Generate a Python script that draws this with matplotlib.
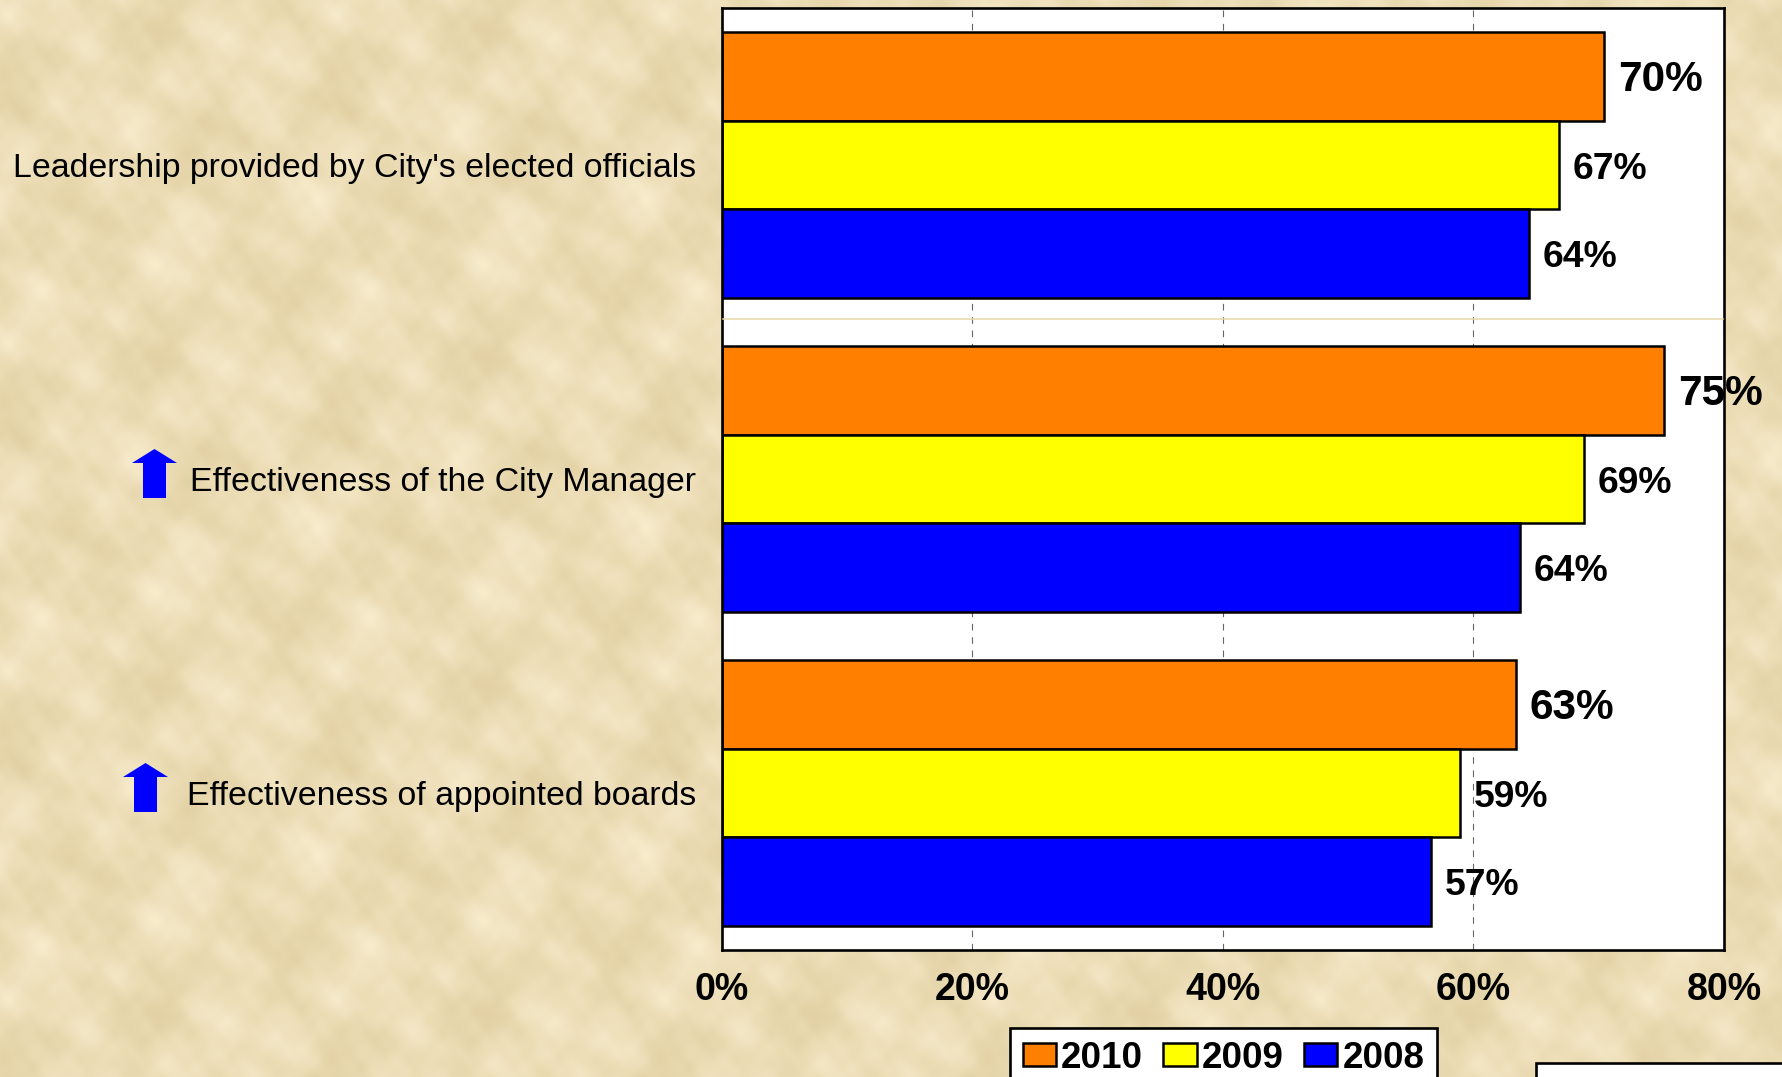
import numpy as np
import matplotlib
matplotlib.use("Agg")
import matplotlib.pyplot as plt
from matplotlib.patches import Polygon, Rectangle
from matplotlib.lines import Line2D

categories = ["Leadership provided by City's elected officials",
              "Effectiveness of the City Manager",
              "Effectiveness of appointed boards"]
years = ["2010", "2009", "2008"]
v2010 = [70.4, 75.2, 63.4]
v2009 = [66.8, 68.8, 58.9]
v2008 = [64.4, 63.7, 56.6]
lab2010 = ["70%", "75%", "63%"]
lab2009 = ["67%", "69%", "59%"]
lab2008 = ["64%", "64%", "57%"]
xticks = [0, 20, 40, 60, 80]
xticklabels = ["0%", "20%", "40%", "60%", "80%"]
arrow_rows = [1, 2]

W, H = 1783, 1077
plt.rcParams['font.family'] = ['Liberation Sans', 'DejaVu Sans']
fig = plt.figure(figsize=(W / 100, H / 100), dpi=100)

def fx(px): return px / W
def fy(py): return 1 - py / H

# parchment background: a smooth 328-px repeating tile with soft mottling
T = 328
yy, xx = np.mgrid[0:T, 0:T] / T * 2 * np.pi
m = np.zeros((T, T))
for a, b, c, p in [(1, 2, .8, .3), (2, -1, .8, 1.7), (3, 2, .7, 2.9), (-2, 5, .6, .8), (5, -3, .55, 4.1),
                   (7, 4, .35, 1.2), (-4, 9, .35, 5.2), (11, -6, .2, 3.3), (9, 13, .16, .5), (-13, 8, .16, 2.7),
                   (17, 11, .1, 2.2), (-19, 14, .1, 4.4)]:
    m += c * np.sin(a * xx + b * yy + p)
m /= m.std()
base = np.array([236, 221, 182]) / 255
amp = np.array([3.5, 4.5, 7]) / 255
tile = np.clip(base[None, None, :] + m[..., None] * amp[None, None, :], 0, 1)
ry = np.arange(H) % T
rx = np.arange(W) % T
bg = tile[(ry + 300) % T][:, (rx + 94) % T]
ax_bg = fig.add_axes([0, 0, 1, 1], zorder=0)
ax_bg.imshow(bg, aspect='auto', interpolation='bilinear')
ax_bg.axis('off')

ax = fig.add_axes([fx(722), fy(950), fx(1724 - 722), (950 - 8) / H], zorder=1)
ax.set_facecolor('white')
ax.set_xlim(0, 80)
ax.set_ylim(3, 0)
ax.set_axisbelow(True)
ax.xaxis.grid(True, color='#666666', lw=0.8, ls=(0, (6, 6)))
ax.yaxis.grid(False)

h = 0.2825
centers = np.arange(3) + 0.5
series = [(v2010, lab2010, '#FF8000', -h, 30.5),
          (v2009, lab2009, '#FFFF00', 0, 26.8),
          (v2008, lab2008, '#0000FF', h, 26.8)]
for (vals, labs, col, off, fs), yr in zip(series, years):
    b = ax.barh(centers + off, vals, height=h, color=col, edgecolor='black', linewidth=1.8, label=yr, zorder=3)
    anns = ax.bar_label(b, labels=labs, padding=10, fontsize=fs, fontweight='bold', color='black',
                        clip_on=False, zorder=6)
    for t in anns:
        t.xyann = (t.xyann[0], -3)

ax.set_xticks(xticks)
ax.set_xticklabels(xticklabels, fontsize=27, fontweight='bold')
ax.set_yticks(centers)
ax.set_yticklabels(categories, fontsize=24.4)
ax.tick_params(axis='x', length=0, pad=16)
ax.tick_params(axis='y', length=0, pad=18.5)
for s in ax.spines.values():
    s.set_linewidth(1.9)
    s.set_color('black')
    s.set_zorder(5)

# thin tan separator in the plot area
fig.add_artist(Line2D([fx(723), fx(1723)], [fy(318.5), fy(318.5)], color='#EBD7A8', lw=1.1, zorder=2))

# blue up arrows beside the labels
for row, x0, y0 in zip(arrow_rows, [132, 123], [449, 763]):
    pts = [(x0 + 22.5, y0), (x0 + 45, y0 + 14), (x0 + 34, y0 + 14), (x0 + 34, y0 + 49),
           (x0 + 11, y0 + 49), (x0 + 11, y0 + 14), (x0, y0 + 14)]
    fig.add_artist(Polygon([(fx(a), fy(c)) for a, c in pts], closed=True, transform=fig.transFigure,
                           facecolor='#0000FF', edgecolor='none', zorder=4))

# legend (runs off the bottom edge, as in the reference)
leg = fig.legend(*ax.get_legend_handles_labels(), ncol=3, loc='upper left',
                 bbox_to_anchor=(fx(1010), fy(1028)), bbox_transform=fig.transFigure,
                 fancybox=False, framealpha=1, edgecolor='black', facecolor='white',
                 prop={'weight': 'bold', 'size': 26.5}, handlelength=0.9, handleheight=0.6,
                 handletextpad=0.15, columnspacing=0.55, borderpad=0.34, borderaxespad=0, labelspacing=0)
leg.get_frame().set_linewidth(1.9)
leg.set_zorder(6)

# empty white box cut by the lower right corner
fig.add_artist(Rectangle((fx(1536), fy(1090)), fx(300), (1090 - 1063) / H, transform=fig.transFigure,
                         facecolor='white', edgecolor='black', lw=1.9, zorder=6))

fig.savefig('out.png', dpi=100)
